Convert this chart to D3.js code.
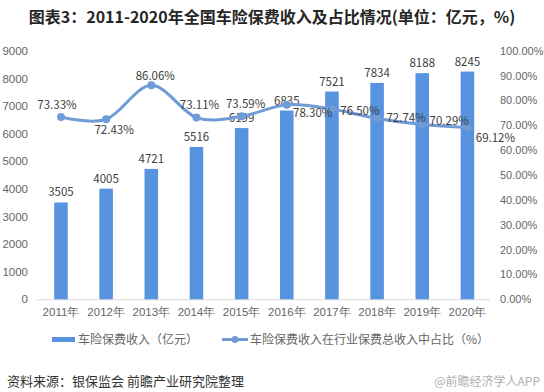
<!DOCTYPE html>
<html><head><meta charset="utf-8">
<script src="https://cdn.jsdelivr.net/npm/d3@7"></script>
<style>
html,body{margin:0;padding:0;background:#fff;}
svg{display:block;font-family:"Noto Sans CJK SC","Noto Sans",sans-serif;}
</style></head>
<body>
<script>
const years = ["2011年","2012年","2013年","2014年","2015年","2016年","2017年","2018年","2019年","2020年"];
const premium = [3505,4005,4721,5516,6199,6835,7521,7834,8188,8245];
const share = [73.33,72.43,86.06,73.11,73.59,78.30,76.50,72.74,70.29,69.12];
const leftTicks = [0,1000,2000,3000,4000,5000,6000,7000,8000,9000];
const rightTicks = [0,10,20,30,40,50,60,70,80,90,100];
const seriesNames = ["车险保费收入（亿元）","车险保费收入在行业保费总收入中占比（%）"];
const titleText = "图表3：2011-2020年全国车险保费收入及占比情况(单位：亿元，%)";
const sourceText = "资料来源：银保监会 前瞻产业研究院整理";
const watermarkText = "@前瞻经济学人APP";

const W=544,H=392;
const barColor="#5893df", lineColor="#6f9bd7", axisText="#666", labelText="#404040";
// label nudges (style): offset of label centre from its point
const nudge=[[-4,-13],[8,10],[4,-10],[3,-14],[4,-13.5],[26,7],[28,1],[29,-1],[27,-5],[28,10]];

const svg=d3.select("body").append("svg").attr("width",W).attr("height",H);
svg.append("rect").attr("width",W).attr("height",H).attr("fill","#fff");

svg.append("text").attr("x",272).attr("y",23).attr("text-anchor","middle")
  .attr("font-size",16).attr("font-weight","bold").attr("fill","#262626").text(titleText);

const x=d3.scaleBand().domain(years).range([38.4,490]).paddingInner(0.7).paddingOuter(0.35);
const yL=d3.scaleLinear().domain([0,9000]).range([299.3,50.7]);
const yR=d3.scaleLinear().domain([0,100]).range([299.3,50.7]);

// left axis
const gl=svg.append("g").attr("transform","translate(30,0)")
  .call(d3.axisLeft(yL).tickValues(leftTicks).tickSize(0).tickPadding(2).tickFormat(d3.format("d")));
gl.select(".domain").remove();
gl.selectAll("text").attr("font-size",11.5).attr("fill",axisText).attr("font-family","inherit");

// right axis
const gr=svg.append("g").attr("transform","translate(498,0)")
  .call(d3.axisRight(yR).tickValues(rightTicks).tickSize(0).tickPadding(2).tickFormat(d=>d.toFixed(2)+"%"));
gr.select(".domain").remove();
gr.selectAll("text").attr("font-size",11).attr("fill",axisText).attr("font-family","inherit");

// baseline
svg.append("line").attr("x1",36).attr("x2",490).attr("y1",yL(0)+0.5).attr("y2",yL(0)+0.5)
  .attr("stroke","#d9d9d9").attr("stroke-width",1);

// bars
svg.append("g").selectAll("rect").data(premium).join("rect")
  .attr("x",(d,i)=>x(years[i])).attr("width",x.bandwidth())
  .attr("y",d=>yL(d)).attr("height",d=>yL(0)-yL(d)).attr("fill",barColor);

svg.append("g").selectAll("text").data(premium).join("text")
  .attr("x",(d,i)=>x(years[i])+x.bandwidth()/2).attr("y",d=>yL(d)-11)
  .attr("dominant-baseline","central")
  .attr("text-anchor","middle").attr("font-size",11.5).attr("fill",labelText).text(d=>d);

// x axis labels
const gx=svg.append("g").attr("transform",`translate(0,${yL(0)})`)
  .call(d3.axisBottom(x).tickSize(0).tickPadding(9));
gx.select(".domain").remove();
gx.selectAll("text").attr("font-size",11.5).attr("fill",axisText).attr("font-family","inherit");

// line
const cx=i=>x(years[i])+x.bandwidth()/2;
const line=d3.line().x((d,i)=>cx(i)).y(d=>yR(d)).curve(d3.curveCardinal.tension(0));
svg.append("path").datum(share).attr("d",line).attr("fill","none")
  .attr("stroke",lineColor).attr("stroke-width",3).attr("stroke-linecap","round");
svg.append("g").selectAll("circle").data(share).join("circle")
  .attr("cx",(d,i)=>cx(i)).attr("cy",d=>yR(d)).attr("r",4).attr("fill",lineColor);

// line labels
svg.append("g").selectAll("text").data(share).join("text")
  .attr("x",(d,i)=>cx(i)+nudge[i][0])
  .attr("y",(d,i)=>yR(d)+nudge[i][1])
  .attr("dominant-baseline","central").attr("text-anchor","middle")
  .attr("font-size",11.5).attr("fill",labelText).text(d=>d.toFixed(2)+"%");

// legend
const lg=svg.append("g");
lg.append("rect").attr("x",52).attr("y",337).attr("width",23).attr("height",5).attr("fill",barColor);
lg.append("text").attr("x",78).attr("y",344).attr("font-size",12).attr("fill",axisText).text(seriesNames[0]);
lg.append("line").attr("x1",222).attr("x2",248).attr("y1",339.5).attr("y2",339.5).attr("stroke",lineColor).attr("stroke-width",3);
lg.append("circle").attr("cx",235).attr("cy",339.5).attr("r",3.5).attr("fill",lineColor);
lg.append("text").attr("x",250).attr("y",344).attr("font-size",12).attr("fill",axisText).text(seriesNames[1]);

// source
svg.append("text").attr("x",7).attr("y",386).attr("font-size",13).attr("fill","#333").text(sourceText);
svg.append("text").attr("x",540).attr("y",386).attr("text-anchor","end").attr("font-size",12).attr("fill","#b0b0b0").text(watermarkText);
</script>
</body></html>
